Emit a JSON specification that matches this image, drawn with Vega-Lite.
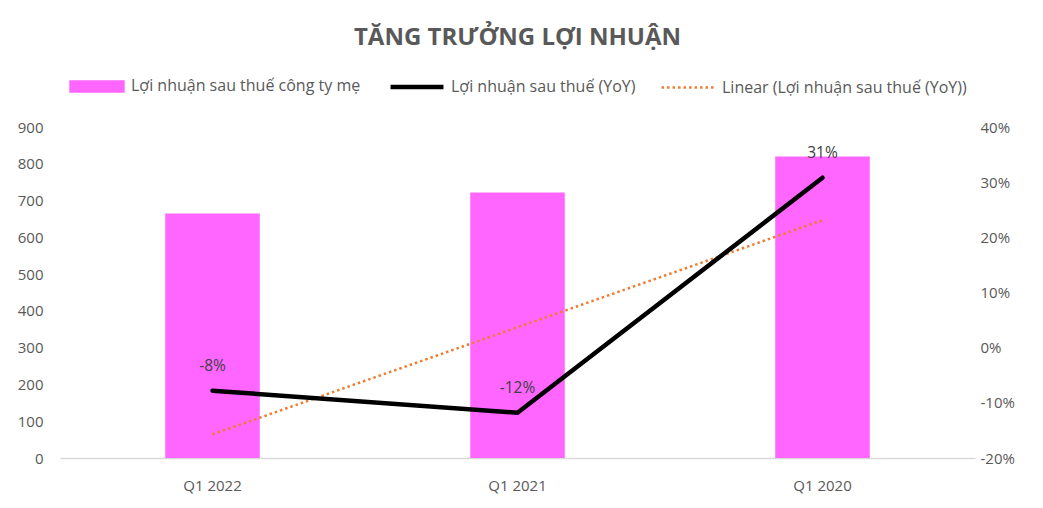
{
  "$schema": "https://vega.github.io/schema/vega-lite/v6.json",
  "width": 915,
  "height": 331,
  "autosize": "none",
  "padding": {"left": 60, "top": 127, "right": 68, "bottom": 50},
  "background": "white",
  "config": {
    "view": {"stroke": null},
    "font": "Open Sans",
    "axis": {"labelFont": "Open Sans", "labelColor": "#595959", "labelFontSize": 15, "grid": false, "ticks": false, "domain": false, "title": null},
    "legend": {"labelFont": "Open Sans", "labelColor": "#595959", "labelFontSize": 16, "labelLimit": 500, "layout": {"top": {"anchor": "middle"}}}
  },
  "title": {"text": "TĂNG TRƯỞNG LỢI NHUẬN", "font": "Open Sans", "fontSize": 24, "fontWeight": "bold", "color": "#595959", "anchor": "middle", "offset": 28},
  "data": {"values": [
    {"q": "Q1 2022", "profit": 665, "yoy": -0.078, "trend": -0.157, "lbl": "-8%"},
    {"q": "Q1 2021", "profit": 722, "yoy": -0.118, "trend": 0.037, "lbl": "-12%"},
    {"q": "Q1 2020", "profit": 820, "yoy": 0.308, "trend": 0.231, "lbl": "31%"}
  ]},
  "encoding": {
    "x": {"field": "q", "type": "nominal", "sort": null,
      "scale": {"paddingInner": 0.69, "paddingOuter": 0.345},
      "axis": {"labelAngle": 0, "domain": true, "domainColor": "#D9D9D9", "domainWidth": 1.5, "labelPadding": 20}}
  },
  "layer": [
    {
      "mark": {"type": "bar", "color": "#FF66FF"},
      "encoding": {
        "y": {"field": "profit", "type": "quantitative", "scale": {"domain": [0, 900]}, "axis": {"orient": "left", "values": [0,100,200,300,400,500,600,700,800,900], "labelPadding": 17}},
        "color": {"datum": "Lợi nhuận sau thuế công ty mẹ", "type": "nominal",
          "scale": {"domain": ["Lợi nhuận sau thuế công ty mẹ", "Lợi nhuận sau thuế (YoY)", "Linear (Lợi nhuận sau thuế (YoY))"], "range": ["#FF66FF", "#000000", "#ED7D31"]},
          "legend": {"title": null, "orient": "top", "direction": "horizontal", "offset": 30, "columnPadding": 20, "labelOffset": 26, "symbolSize": 2800, "symbolOffset": 20,
            "encode": {"symbols": {"update": {
              "shape": {"signal": "datum.value == 'Lợi nhuận sau thuế công ty mẹ' ? 'M-1,-0.19H1V0.19H-1Z' : 'M-1,0H1'"},
              "fill": {"signal": "datum.value == 'Lợi nhuận sau thuế công ty mẹ' ? '#FF66FF' : 'transparent'"},
              "stroke": {"signal": "datum.value == 'Lợi nhuận sau thuế công ty mẹ' ? 'transparent' : (datum.value == 'Lợi nhuận sau thuế (YoY)' ? '#000000' : '#ED7D31')"},
              "strokeWidth": {"signal": "datum.value == 'Lợi nhuận sau thuế (YoY)' ? 4.5 : 2.5"},
              "strokeDash": {"signal": "datum.value == 'Linear (Lợi nhuận sau thuế (YoY))' ? [2.5, 3] : [1, 0]"},
              "opacity": {"value": 1}
            }}}}
        }
      }
    },
    {
      "layer": [
        {
          "mark": {"type": "line", "strokeWidth": 2.5, "strokeDash": [2.5, 3], "strokeCap": "butt"},
          "encoding": {
            "y": {"field": "trend", "type": "quantitative", "scale": {"domain": [-0.2, 0.4]}, "axis": {"orient": "right", "format": ".0%", "labelExpr": "replace(datum.label, '−', '-')", "values": [-0.2,-0.1,0,0.1,0.2,0.3,0.4], "labelPadding": 5}},
            "color": {"datum": "Linear (Lợi nhuận sau thuế (YoY))", "type": "nominal"}
          }
        },
        {
          "mark": {"type": "line", "strokeWidth": 4.5, "strokeCap": "round", "strokeJoin": "miter"},
          "encoding": {
            "y": {"field": "yoy", "type": "quantitative", "scale": {"domain": [-0.2, 0.4]}, "axis": {"orient": "right", "format": ".0%", "labelExpr": "replace(datum.label, '−', '-')", "values": [-0.2,-0.1,0,0.1,0.2,0.3,0.4], "labelPadding": 5}},
            "color": {"datum": "Lợi nhuận sau thuế (YoY)", "type": "nominal"}
          }
        },
        {
          "mark": {"type": "text", "dy": -25, "fontSize": 15.5, "color": "#404040", "font": "Open Sans"},
          "encoding": {
            "y": {"field": "yoy", "type": "quantitative", "scale": {"domain": [-0.2, 0.4]}, "axis": {"orient": "right", "format": ".0%", "labelExpr": "replace(datum.label, '−', '-')", "values": [-0.2,-0.1,0,0.1,0.2,0.3,0.4], "labelPadding": 5}},
            "text": {"field": "lbl", "type": "nominal"}
          }
        }
      ]
    }
  ],
  "resolve": {"scale": {"y": "independent"}}
}
